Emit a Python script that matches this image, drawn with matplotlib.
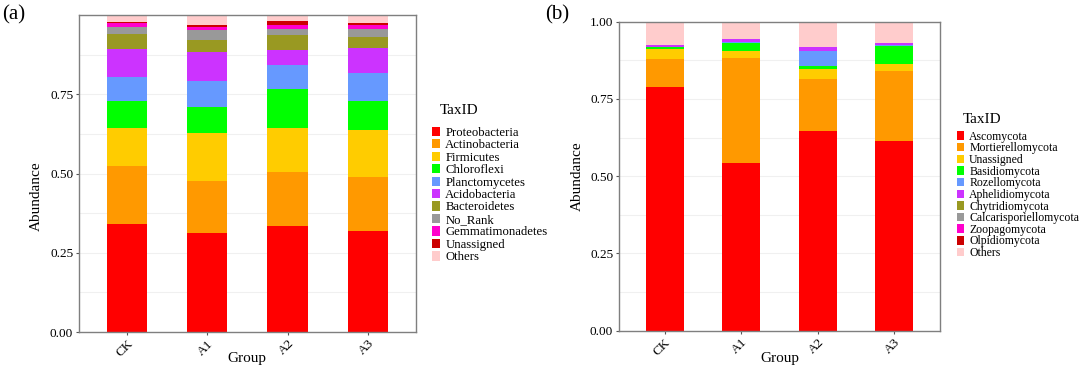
import numpy as np
import matplotlib
matplotlib.use('Agg')
import matplotlib.pyplot as plt
from matplotlib.patches import Patch

plt.rcParams['font.family'] = ['Liberation Serif', 'DejaVu Serif']

groups = ['CK', 'A1', 'A2', 'A3']

# (a) bacteria, relative abundance per group
bac_taxa = ['Proteobacteria', 'Actinobacteria', 'Firmicutes', 'Chloroflexi', 'Planctomycetes',
            'Acidobacteria', 'Bacteroidetes', 'No_Rank', 'Gemmatimonadetes', 'Unassigned', 'Others']
bac_values = {
    'Proteobacteria':   [0.341, 0.313, 0.335, 0.319],
    'Actinobacteria':   [0.182, 0.162, 0.171, 0.169],
    'Firmicutes':       [0.122, 0.152, 0.136, 0.150],
    'Chloroflexi':      [0.084, 0.083, 0.124, 0.091],
    'Planctomycetes':   [0.077, 0.082, 0.076, 0.087],
    'Acidobacteria':    [0.088, 0.090, 0.048, 0.079],
    'Bacteroidetes':    [0.045, 0.039, 0.046, 0.037],
    'No_Rank':          [0.023, 0.031, 0.021, 0.025],
    'Gemmatimonadetes': [0.012, 0.010, 0.012, 0.011],
    'Unassigned':       [0.005, 0.008, 0.012, 0.008],
    'Others':           [0.021, 0.030, 0.019, 0.024],
}
bac_colors = ['#FF0000', '#FF9900', '#FFCC00', '#00FF00', '#6699FF', '#CC33FF',
              '#999922', '#999999', '#FF00CC', '#CC0000', '#FFCCCC']

# (b) fungi, relative abundance per group
fun_taxa = ['Ascomycota', 'Mortierellomycota', 'Unassigned', 'Basidiomycota', 'Rozellomycota',
            'Aphelidiomycota', 'Chytridiomycota', 'Calcarisporiellomycota', 'Zoopagomycota',
            'Olpidiomycota', 'Others']
fun_values = {
    'Ascomycota':             [0.790, 0.542, 0.647, 0.613],
    'Mortierellomycota':      [0.088, 0.342, 0.168, 0.226],
    'Unassigned':             [0.035, 0.021, 0.032, 0.023],
    'Basidiomycota':          [0.005, 0.027, 0.010, 0.060],
    'Rozellomycota':          [0.001, 0.002, 0.049, 0.001],
    'Aphelidiomycota':        [0.007, 0.009, 0.011, 0.008],
    'Chytridiomycota':        [0.000, 0.000, 0.000, 0.000],
    'Calcarisporiellomycota': [0.000, 0.000, 0.000, 0.000],
    'Zoopagomycota':          [0.000, 0.000, 0.000, 0.000],
    'Olpidiomycota':          [0.000, 0.000, 0.000, 0.000],
    'Others':                 [0.074, 0.057, 0.083, 0.069],
}
fun_colors = bac_colors


def stacked(ax, taxa, values, colors, ticks):
    x = np.arange(len(groups))
    bottom = np.zeros(len(groups))
    for t, c in zip(taxa, colors):
        v = np.array(values[t])
        ax.bar(x, v, width=0.5, bottom=bottom, color=c, linewidth=0, zorder=2)
        bottom += v
    ax.set_xlim(-0.6, len(groups) - 0.4)
    ax.set_ylim(0, 1.0)
    ax.set_yticks(ticks)
    ax.set_yticklabels(['%.2f' % t for t in ticks], fontsize=9.5)
    ax.set_yticks(np.arange(0, 1.01, 0.125), minor=True)
    ax.grid(True, which='both', axis='y', color='#F0F0F0', linewidth=0.8, zorder=0)
    ax.set_xticks(x)
    ax.set_xticklabels(groups, rotation=45, ha='right', va='top', fontsize=9.5,
                       rotation_mode='anchor')
    ax.tick_params(axis='both', which='major', length=2.5, width=0.8, color='#555555', pad=1.5)
    ax.tick_params(axis='y', which='minor', length=0)
    for s in ax.spines.values():
        s.set_color('#7F7F7F')
        s.set_linewidth(1.0)
    ax.set_xlabel('Group', fontsize=11, labelpad=2)
    ax.set_ylabel('Abundance', fontsize=11)


fig = plt.figure(figsize=(10.8, 3.68), dpi=100)

ax1 = fig.add_axes([0.0729, 0.0978, 0.3123, 0.8614])
stacked(ax1, bac_taxa, bac_values, bac_colors, [0.0, 0.25, 0.5, 0.75])
ax1.yaxis.set_label_coords(-0.105, 0.43)
ax1.xaxis.set_label_coords(0.5, -0.063)

ax2 = fig.add_axes([0.5729, 0.1014, 0.2975, 0.8397])
stacked(ax2, fun_taxa, fun_values, fun_colors, [0.0, 0.25, 0.5, 0.75, 1.0])
ax2.yaxis.set_label_coords(-0.11, 0.5)
ax2.xaxis.set_label_coords(0.5, -0.07)

for ax, taxa, colors, anchor, title_xy, fsize, spacing in [
        (ax1, bac_taxa, bac_colors, (0.400, 0.656), (0.4075, 0.700), 9.2, 0.036),
        (ax2, fun_taxa, fun_colors, (0.886, 0.645), (0.891, 0.674), 8.5, -0.03)]:
    handles = [Patch(facecolor=c, edgecolor='none') for c in colors]
    ax.legend(handles, taxa, loc='upper left', bbox_to_anchor=anchor,
              bbox_transform=fig.transFigure, frameon=False, fontsize=fsize,
              handlelength=0.62, handleheight=0.72, handletextpad=0.42,
              labelspacing=spacing, borderpad=0, borderaxespad=0)
    fig.text(title_xy[0], title_xy[1], 'TaxID', fontsize=11, ha='left', va='center')

fig.text(0.002, 0.985, '(a)', fontsize=15, ha='left', va='top')
fig.text(0.505, 0.985, '(b)', fontsize=15, ha='left', va='top')

fig.savefig('out.png', dpi=100)
